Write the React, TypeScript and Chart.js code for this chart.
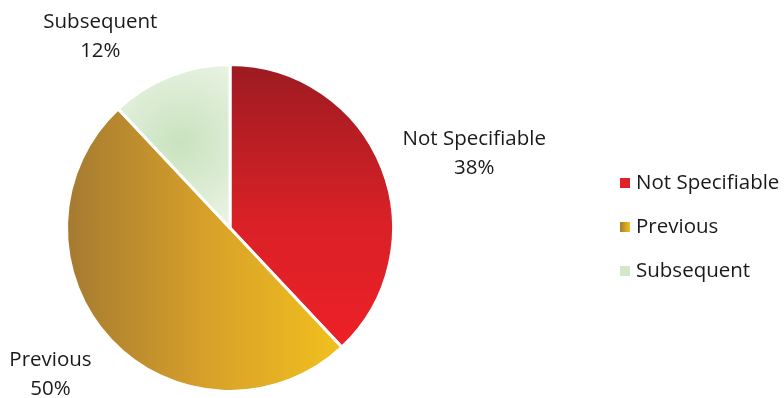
import React, { useEffect, useRef } from "react";
import { Chart, registerables } from "chart.js";

Chart.register(...registerables);

const categories = ["Not Specifiable", "Previous", "Subsequent"];
const values = [38, 50, 12];
const percentLabels = ["38%", "50%", "12%"];

const FONT = '"Open Sans", sans-serif';

function makeFill(ctx: CanvasRenderingContext2D, idx: number, cx: number, cy: number, r: number) {
  if (idx === 0) {
    const g = ctx.createLinearGradient(0, cy - r, 0, cy + r * 0.75);
    g.addColorStop(0, "#9c1b21");
    g.addColorStop(0.55, "#d92127");
    g.addColorStop(1, "#ef2027");
    return g;
  }
  if (idx === 1) {
    const g = ctx.createLinearGradient(cx - r, 0, cx + r * 0.7, 0);
    g.addColorStop(0, "#a47a31");
    g.addColorStop(0.5, "#d7a02a");
    g.addColorStop(1, "#f2c11d");
    return g;
  }
  const g = ctx.createRadialGradient(cx - 0.3 * r, cy - 0.52 * r, 0, cx - 0.3 * r, cy - 0.52 * r, 0.55 * r);
  g.addColorStop(0, "#c9e2bd");
  g.addColorStop(1, "#e9f3e4");
  return g;
}

const labelPlugin = {
  id: "outerLabels",
  afterDatasetsDraw(chart: any, _args: any, opts: any) {
    const ctx = chart.ctx as CanvasRenderingContext2D;
    const meta = chart.getDatasetMeta(0);
    const pos: number[][] = opts.positions;
    ctx.save();
    ctx.font = `20.5px ${FONT}`;
    ctx.fillStyle = "#1a1a1a";
    ctx.textAlign = "center";
    ctx.textBaseline = "middle";
    meta.data.forEach((arc: any, i: number) => {
      const { x, y, outerRadius } = arc.getProps(["x", "y", "outerRadius"], true);
      const lx = x + pos[i][0] * outerRadius;
      const ly = y + pos[i][1] * outerRadius;
      ctx.fillText(categories[i], lx, ly - 13);
      ctx.fillText(percentLabels[i], lx, ly + 16);
    });
    // legend
    const lx = opts.legendX;
    const ly0 = opts.legendY;
    const step = opts.legendStep;
    ctx.textAlign = "left";
    meta.data.forEach((_arc: any, i: number) => {
      const yy = ly0 + i * step;
      let fill: any;
      if (i === 0) fill = "#df2228";
      else if (i === 1) {
        const g = ctx.createLinearGradient(lx, 0, lx + 10, 0);
        g.addColorStop(0, "#a47a31");
        g.addColorStop(1, "#f2c11d");
        fill = g;
      } else fill = "#d3e8c9";
      ctx.fillStyle = fill;
      ctx.fillRect(lx, yy - 5, 10, 10);
      ctx.fillStyle = "#1a1a1a";
      ctx.fillText(categories[i], lx + 16, yy);
    });
    ctx.restore();
  },
};

export default function App() {
  const ref = useRef<HTMLCanvasElement>(null);
  useEffect(() => {
    if (!ref.current) return;
    const chart = new Chart(ref.current, {
      type: "pie",
      data: {
        labels: categories,
        datasets: [
          {
            data: values,
            backgroundColor: (c: any) => {
              const ch = c.chart;
              const area = ch.chartArea;
              if (!area) return "#ccc";
              const cx = (area.left + area.right) / 2;
              const cy = (area.top + area.bottom) / 2;
              const r = Math.min(area.right - area.left, area.bottom - area.top) / 2;
              return makeFill(ch.ctx, c.dataIndex, cx, cy, r);
            },
            borderColor: "#ffffff",
            borderWidth: 3,
          },
        ],
      },
      options: {
        responsive: false,
        animation: false,
        layout: { padding: { left: 65, right: 389, top: 63, bottom: 5 } },
        plugins: {
          legend: { display: false },
          tooltip: { enabled: false },
          outerLabels: {
            positions: [
              [1.494, -0.463],
              [-1.098, 0.89],
              [-0.793, -1.177],
            ],
            legendX: 620,
            legendY: 183,
            legendStep: 44,
          },
        } as any,
      },
      plugins: [labelPlugin],
    });
    return () => chart.destroy();
  }, []);
  return (
    <div style={{ position: "absolute", left: 0, top: 0, width: 784, height: 398 }}>
      <canvas ref={ref} width={784} height={398} style={{ display: "block" }} />
    </div>
  );
}
